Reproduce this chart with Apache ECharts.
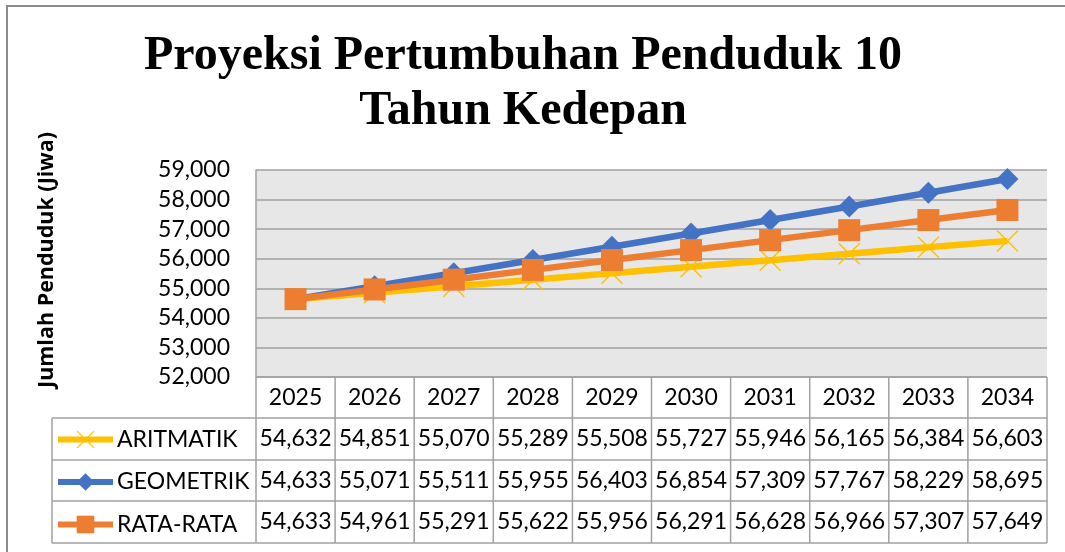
<!DOCTYPE html>
<html>
<head>
<meta charset="utf-8">
<script src="https://cdn.jsdelivr.net/npm/echarts@6/dist/echarts.min.js"></script>
<style>
html, body { margin: 0; padding: 0; background: #fff; }
#chart { width: 1065px; height: 552px; }
</style>
</head>
<body>
<div id="chart"></div>
<script>
var years = ['2025', '2026', '2027', '2028', '2029', '2030', '2031', '2032', '2033', '2034'];
var seriesNames = ['ARITMATIK', 'GEOMETRIK', 'RATA-RATA'];
var aritmatik = [54632, 54851, 55070, 55289, 55508, 55727, 55946, 56165, 56384, 56603];
var geometrik = [54633, 55071, 55511, 55955, 56403, 56854, 57309, 57767, 58229, 58695];
var rataRata = [54633, 54961, 55291, 55622, 55956, 56291, 56628, 56966, 57307, 57649];

var myChart = echarts.init(document.getElementById('chart'));

// ukuran area plot & tabel data
var gLeft = 256, gTop = 170, gWidth = 791, gHeight = 207;
var colW = gWidth / years.length;
var rowTops = [377, 418, 460, 501, 543];
var tableLeft = 52;
var lineCol = '#A0A0A0';
var font = 'Lato';
var fSize = 23;

function fmt(v) {
	return v.toLocaleString('en-US');
}

var crossPath = 'path://M0,1L1,0L11,10L21,0L22,1L12,11L22,21L21,22L11,12L1,22L0,21L10,11Z';

// elemen tabel data di bawah grafik
var graphics = [];
graphics.push({ //bingkai luar
	type: 'rect', silent: true,
	shape: { x: 7, y: 6, width: 1100, height: 600 },
	style: { fill: null, stroke: '#8c8c8c', lineWidth: 2 }
});
graphics.push({
	type: 'text', silent: true,
	x: 47, y: 260, rotation: Math.PI / 2,
	style: { text: 'Jumlah Penduduk (Jiwa)', fontFamily: 'Open Sans', fontWeight: 'bold', fontSize: 21.5, fill: '#000', align: 'center', verticalAlign: 'middle' }
});
// garis horizontal
for (var r = 0; r < rowTops.length; r++) {
	var x0 = r == 0 ? gLeft : tableLeft;
	graphics.push({
		type: 'line', silent: true,
		shape: { x1: x0, y1: rowTops[r], x2: gLeft + gWidth, y2: rowTops[r] },
		style: { stroke: lineCol, lineWidth: 1.5 }
	});
}
// garis vertikal
graphics.push({
	type: 'line', silent: true,
	shape: { x1: tableLeft, y1: rowTops[1], x2: tableLeft, y2: rowTops[4] },
	style: { stroke: lineCol, lineWidth: 1.5 }
});
for (var i = 0; i <= years.length; i++) {
	var xv = gLeft + i * colW;
	graphics.push({
		type: 'line', silent: true,
		shape: { x1: xv, y1: rowTops[0], x2: xv, y2: rowTops[4] },
		style: { stroke: lineCol, lineWidth: 1.5 }
	});
}
// teks tahun dan nilai
var rows = [years, aritmatik.map(fmt), geometrik.map(fmt), rataRata.map(fmt)];
for (var r = 0; r < rows.length; r++) {
	for (var i = 0; i < rows[r].length; i++) {
		graphics.push({
			type: 'text', silent: true,
			x: gLeft + (i + 0.5) * colW,
			y: (rowTops[r] + rowTops[r + 1]) / 2,
			style: { text: rows[r][i], fontFamily: font, fontSize: fSize, fill: '#000', align: 'center', verticalAlign: 'middle' }
		});
	}
}

var option = {
	animation: false,
	title: {
		text: 'Proyeksi Pertumbuhan Penduduk 10\nTahun Kedepan',
		left: 518,
		top: 24,
		textAlign: 'center',
		textStyle: {
			fontFamily: 'Liberation Serif',
			fontWeight: 'bold',
			fontSize: 48,
			lineHeight: 55,
			color: '#000'
		}
	},
	legend: {
		orient: 'vertical',
		left: 55,
		top: 428,
		padding: 0,
		itemWidth: 55,
		itemHeight: 22,
		itemGap: 19.5,
		selectedMode: false,
		lineStyle: { width: 6 },
		textStyle: { fontFamily: font, fontSize: fSize, lineHeight: 22, color: '#000', padding: [0, 0, 0, -1] },
		data: seriesNames
	},
	grid: {
		left: gLeft,
		top: gTop,
		width: gWidth,
		height: gHeight,
		show: true,
		backgroundColor: '#E7E7E7',
		borderWidth: 0
	},
	xAxis: {
		type: 'category',
		data: years,
		boundaryGap: true,
		axisLine: { show: false },
		axisTick: { show: false },
		axisLabel: { show: false },
		splitLine: { show: false }
	},
	yAxis: {
		type: 'value',
		min: 52000,
		max: 59000,
		interval: 1000,
		axisLine: { show: true, lineStyle: { color: lineCol, width: 1.5 } },
		axisTick: { show: false },
		axisLabel: {
			margin: 26,
			fontFamily: font,
			fontSize: fSize,
			color: '#000',
			formatter: function (v) { return fmt(v); }
		},
		splitLine: { show: true, lineStyle: { color: lineCol, width: 1.5 } }
	},
	series: [{
			name: seriesNames[0],
			type: 'line',
			data: aritmatik,
			color: '#FFC000',
			symbol: crossPath,
			symbolSize: 22,
			lineStyle: { width: 6.5, color: '#FFC000' },
			itemStyle: { color: '#FFC000' }
		},
		{
			name: seriesNames[1],
			type: 'line',
			data: geometrik,
			color: '#4472C4',
			symbol: 'diamond',
			symbolSize: [22, 22],
			lineStyle: { width: 6.5, color: '#4472C4' },
			itemStyle: { color: '#4472C4' }
		},
		{
			name: seriesNames[2],
			type: 'line',
			data: rataRata,
			color: '#ED7D31',
			symbol: 'rect',
			symbolSize: 22,
			lineStyle: { width: 6.5, color: '#ED7D31' },
			itemStyle: { color: '#ED7D31' }
		}
	],
	graphic: graphics
};

myChart.setOption(option);
</script>
</body>
</html>
